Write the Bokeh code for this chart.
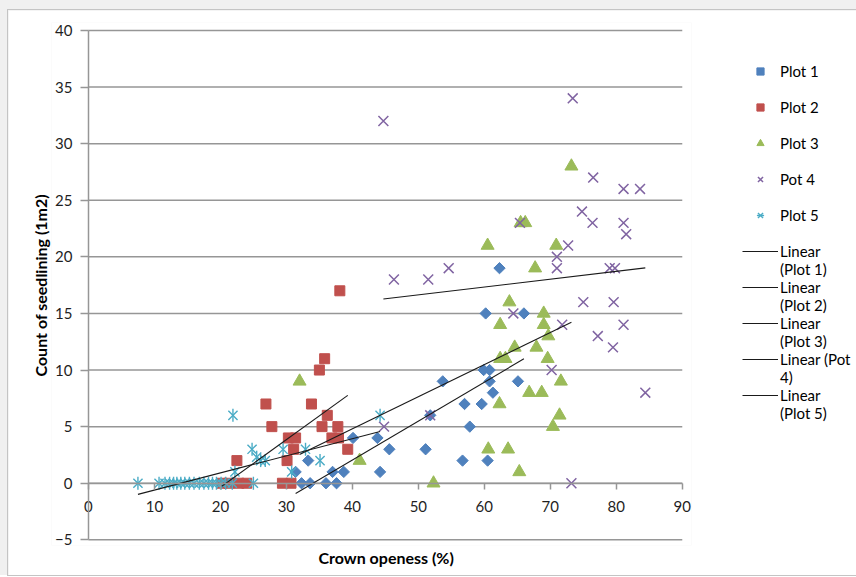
import numpy as np
from bokeh.plotting import figure
from bokeh.layouts import column
from bokeh.models import Range1d, FixedTicker, Legend, LegendItem, Title
from bokeh.embed import file_html
from bokeh.resources import INLINE

# ---------------- data ----------------
series_names = ["Plot 1", "Plot 2", "Plot 3", "Pot 4", "Plot 5"]

plot1_x = [62.3, 60.2, 66.0, 59.9, 60.8, 53.7, 60.8, 65.1, 61.3, 57.0, 59.6, 57.8, 51.8, 51.1,
           56.7, 60.5, 45.6, 44.2, 40.1, 43.8, 33.3, 31.4, 37.0, 38.7, 32.3, 33.6, 36.0, 37.6]
plot1_y = [19, 15, 15, 10, 10, 9, 9, 9, 8, 7, 7, 5, 6, 3,
           2, 2, 3, 1, 4, 4, 2, 1, 1, 1, 0, 0, 0, 0]

plot2_x = [38.1, 35.8, 35.0, 33.8, 26.9, 27.8, 36.2, 35.4, 37.8, 30.3, 31.4, 36.9, 37.9, 31.1,
           39.3, 30.1, 22.5, 20.2, 21.3, 22.8, 24.0, 29.4, 30.7]
plot2_y = [17, 11, 10, 7, 7, 5, 6, 5, 5, 4, 4, 4, 4, 3,
           3, 2, 2, 0, 0, 0, 0, 0, 0]

plot3_x = [73.2, 66.2, 65.5, 60.5, 70.9, 67.7, 63.8, 69.0, 62.4, 69.0, 69.7, 64.6, 67.9, 62.4,
           63.2, 69.6, 71.6, 66.8, 68.7, 62.3, 71.4, 70.4, 60.6, 63.6, 65.3, 52.3, 41.1, 32.0]
plot3_y = [28, 23, 23, 21, 21, 19, 16, 15, 14, 14, 13, 12, 12, 11,
           11, 11, 9, 8, 8, 7, 6, 5, 3, 3, 1, 0, 2, 9]

pot4_x = [44.7, 73.4, 76.5, 81.1, 83.6, 74.8, 76.4, 81.1, 81.5, 72.7, 71.0, 71.0, 79.0, 79.8, 65.4,
          46.3, 51.5, 54.6, 64.4, 75.0, 79.6, 71.8, 81.1, 77.2, 79.5, 70.2, 84.4, 73.2, 44.8, 51.8]
pot4_y = [32, 34, 27, 26, 26, 24, 23, 23, 22, 21, 20, 19, 19, 19, 23,
          18, 18, 19, 15, 16, 16, 14, 14, 13, 12, 10, 8, 0, 5, 6]

plot5_x = [7.5, 10.7, 11.6, 12.3, 12.9, 13.4, 14.0, 14.6, 15.3, 16.0, 16.8, 17.5, 18.2, 18.8, 19.4,
           20.1, 20.8, 21.8, 25.0, 22.2, 30.8, 21.9, 24.8, 25.5, 26.1, 26.8, 29.5, 32.9, 35.1, 44.2]
plot5_y = [0, 0, 0, 0, 0, 0, 0, 0, 0, 0, 0, 0, 0, 0, 0,
           0, 0, 0, 0, 1, 1, 6, 3, 2.3, 2, 2, 3, 3, 2, 6]

trend_labels = [("Linear", "(Plot 1)"), ("Linear", "(Plot 2)"), ("Linear", "(Plot 3)"),
                ("Linear (Pot", "4)"), ("Linear", "(Plot 5)")]

x_ticks = [0, 10, 20, 30, 40, 50, 60, 70, 80, 90]
y_ticks = [-5, 0, 5, 10, 15, 20, 25, 30, 35, 40]

# ---------------- styling ----------------
FONT = "Lato"
colors = ["#4f81bd", "#c0504d", "#9bbb59", "#8064a2", "#4bacc6"]
GRID = "#969696"
TEXT = "#1f1f1f"

# the frame is a little wider/taller than the axes so that the axes' labels,
# which sit at x = 0 and y = 0, are not cut by the frame
p = figure(frame_width=640, frame_height=523, output_backend="svg", toolbar_location=None,
           x_range=Range1d(-5.6, 91.4), y_range=Range1d(-5.5, 40.7),
           min_border_left=43, min_border_right=160, min_border_top=12, min_border_bottom=30)
p.outline_line_color = None
p.background_fill_color = "white"
p.border_fill_color = "white"
p.margin = (10, 0, 0, 8)
p.styles = {"outline": "1px solid #c4c4c4"}

# horizontal grid lines only over the axes' extent
p.xgrid.visible = False
p.ygrid.visible = False
p.segment(x0=x_ticks[0], x1=x_ticks[-1], y0=y_ticks, y1=y_ticks,
          line_color=GRID, line_width=1.5)

# y axis at x = 0
p.yaxis.fixed_location = x_ticks[0]
p.yaxis.bounds = (y_ticks[0], y_ticks[-1])
p.yaxis.ticker = FixedTicker(ticks=y_ticks)
p.yaxis.axis_line_color = GRID
p.yaxis.axis_line_width = 1.5
p.yaxis.major_tick_line_color = GRID
p.yaxis.major_tick_line_width = 1.5
p.yaxis.major_tick_out = 8
p.yaxis.major_tick_in = 0
p.yaxis.minor_tick_line_color = None
p.yaxis.major_label_standoff = 8
p.yaxis.major_label_text_font = FONT
p.yaxis.major_label_text_font_size = "15px"
p.yaxis.major_label_text_color = TEXT

# x axis crossing at y = 0
p.xaxis.fixed_location = 0
p.xaxis.bounds = (x_ticks[0], x_ticks[-1])
p.xaxis.ticker = FixedTicker(ticks=x_ticks)
p.xaxis.axis_line_color = GRID
p.xaxis.axis_line_width = 1.5
p.xaxis.major_tick_line_color = GRID
p.xaxis.major_tick_line_width = 1.5
p.xaxis.major_tick_out = 6
p.xaxis.major_tick_in = 0
p.xaxis.minor_tick_line_color = None
p.xaxis.major_label_standoff = 12
p.xaxis.major_label_text_font = FONT
p.xaxis.major_label_text_font_size = "15px"
p.xaxis.major_label_text_color = TEXT

p.add_layout(Title(text="Crown openess (%)", align="left", offset=267, text_font=FONT,
                   text_font_size="16px", text_font_style="bold", text_color="#000000",
                   standoff=0), "below")
p.add_layout(Title(text="Count of seedlining (1m2)", align="left", offset=169, text_font=FONT,
                   text_font_size="16px", text_font_style="bold", text_color="#000000",
                   standoff=4), "left")

# ---------------- markers ----------------
r1 = p.scatter(plot1_x, plot1_y, marker="square", angle=np.pi / 4, size=8,
               fill_color=colors[0], line_color=colors[0])
r2 = p.scatter(plot2_x, plot2_y, marker="square", size=10,
               fill_color=colors[1], line_color=colors[1])
r3 = p.scatter(plot3_x, plot3_y, marker="triangle", size=13,
               fill_color=colors[2], line_color=colors[2])
r4 = p.scatter(pot4_x, pot4_y, marker="x", size=14, line_width=1.5, line_color=colors[3])
r5a = p.scatter(plot5_x, plot5_y, marker="x", size=13, line_width=1.4, line_color=colors[4])
r5b = p.scatter(plot5_x, plot5_y, marker="dash", angle=np.pi / 2, size=13, line_width=1.4,
                line_color=colors[4])

# ---------------- linear trend lines ----------------
all_x = [plot1_x, plot2_x, plot3_x, pot4_x, plot5_x]
all_y = [plot1_y, plot2_y, plot3_y, pot4_y, plot5_y]
trend_renderers = []
for xs, ys in zip(all_x, all_y):
    slope, intercept = np.polyfit(xs, ys, 1)
    lx = [min(xs), max(xs)]
    ly = [slope * v + intercept for v in lx]
    trend_renderers.append(p.line(lx, ly, line_color="#1a1a1a", line_width=1.1))

blank = p.line(x=[], y=[], line_alpha=0)

# ---------------- legend (right panel) ----------------
marker_renderers = [[r1], [r2], [r3], [r4], [r5a, r5b]]
items = []
for n, rs in zip(series_names, marker_renderers):
    items.append(LegendItem(label=n, renderers=rs))
    items.append(LegendItem(label=" ", renderers=[blank]))
for (a, b), tr in zip(trend_labels, trend_renderers):
    items.append(LegendItem(label=a, renderers=[tr]))
    items.append(LegendItem(label=b, renderers=[blank]))

legend = Legend(items=items, location=(51, 123), spacing=0, glyph_height=18, label_height=18,
                glyph_width=36, label_standoff=2, padding=0, margin=0, border_line_color=None,
                background_fill_alpha=0, label_text_font=FONT, label_text_font_size="15px",
                label_text_color="#000000")
p.add_layout(legend, "right")

root = column(p, styles={"background-color": "#f0f0f0"})

open("out.html", "w").write(file_html(root, INLINE))
